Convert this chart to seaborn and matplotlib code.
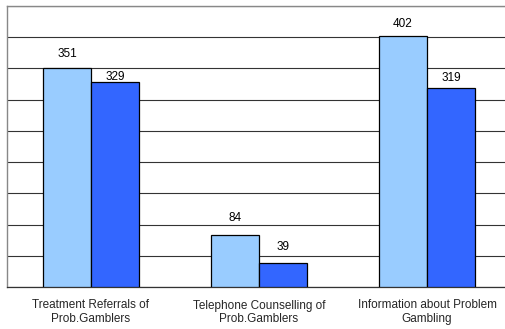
import matplotlib
matplotlib.use("Agg")
import matplotlib.pyplot as plt
import seaborn as sns
import pandas as pd
from matplotlib.ticker import MultipleLocator, FixedLocator

categories = ["Treatment Referrals of\nProb.Gamblers",
              "Telephone Counselling of\nProb.Gamblers",
              "Information about Problem\nGambling"]
series_names = ["Series A", "Series B"]
series_a = [351, 84, 402]
series_b = [329, 39, 319]

df = pd.DataFrame({
    "category": categories * 2,
    "series": [series_names[0]] * 3 + [series_names[1]] * 3,
    "value": series_a + series_b,
})

sns.set_style("white")
plt.rcParams["font.family"] = ["Liberation Sans", "DejaVu Sans"]

fig = plt.figure(figsize=(5.05, 3.29), dpi=100)
ax = fig.add_axes([7 / 505, 42 / 329, 504 / 505, 281 / 329])

sns.barplot(data=df, x="category", y="value", hue="series",
            palette=["#99CCFF", "#3366FF"], width=0.571, gap=0,
            edgecolor="black", linewidth=0.9, saturation=1, ax=ax,
            legend=False, zorder=3)

ax.set_xlim(-0.5, 2.5)
ax.set_ylim(0, 450)
ax.yaxis.set_major_locator(MultipleLocator(50))
ax.set_yticklabels([])
ax.tick_params(axis="y", length=0)
ax.grid(axis="y", color="#333333", linewidth=0.8, zorder=0)
ax.set_axisbelow(True)
ax.set_xlabel("")
ax.set_ylabel("")

for side in ["left", "top"]:
    ax.spines[side].set_color("#888888")
    ax.spines[side].set_linewidth(1.0)
ax.spines["right"].set_visible(False)
ax.spines["bottom"].set_color("#333333")
ax.spines["bottom"].set_linewidth(0.9)

ax.tick_params(axis="x", which="major", length=0, pad=9, labelsize=8.5)
ax.xaxis.set_minor_locator(FixedLocator([-0.5, 0.5, 1.5, 2.5]))
ax.tick_params(axis="x", which="minor", length=3, width=0.8, color="black",
               direction="out")

label_offsets = [[14, 17, 12], [5, 16, 10]]
for ci, cont in enumerate(ax.containers):
    for bi, bar in enumerate(cont):
        h = bar.get_height()
        ax.annotate(f"{int(round(h))}",
                    (bar.get_x() + bar.get_width() / 2, h),
                    xytext=(0, label_offsets[ci][bi] * 0.72),
                    textcoords="offset points", ha="center", va="center",
                    fontsize=8.5, color="black")

fig.savefig("out.png", dpi=100)
